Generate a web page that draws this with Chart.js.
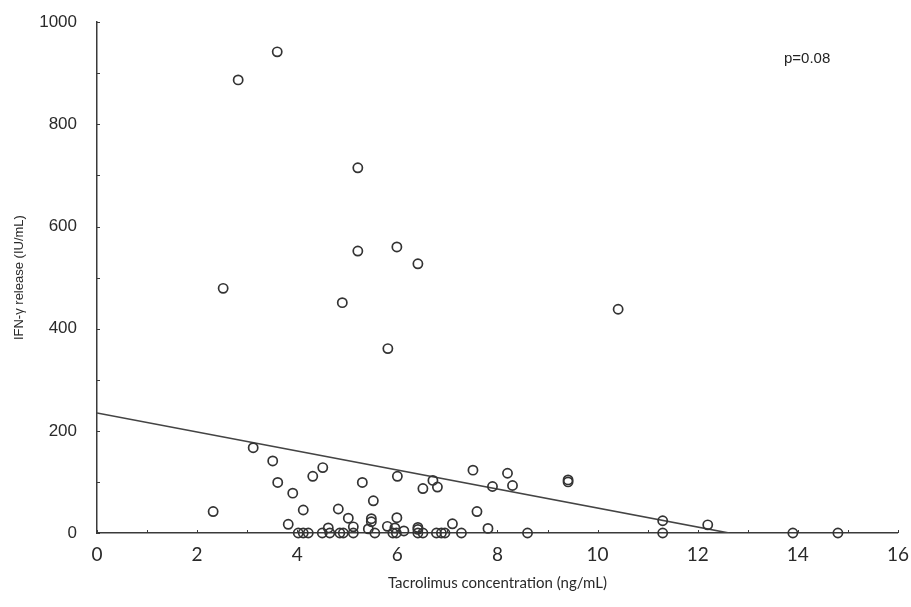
<!DOCTYPE html>
<html>
<head>
<meta charset="utf-8">
<script src="https://cdn.jsdelivr.net/npm/chart.js@4/dist/chart.umd.min.js"></script>
<style>
  body { margin: 0; background: #fff; }
  canvas { display: block; }
</style>
</head>
<body>
<canvas id="chart" width="911" height="607"></canvas>
<script>
// Tacrolimus concentration (ng/mL) vs IFN-γ release (IU/mL)
const concX = [
  3.6, 2.82, 5.21, 5.21, 5.99, 6.41, 2.52, 4.9, 10.41, 5.81,
  3.12, 3.51, 3.61, 3.91, 2.32, 4.31, 4.51, 4.12, 3.82, 4.82,
  5.3, 5.52, 6.0, 6.51, 6.71, 6.8, 7.51, 8.2, 7.9, 8.3,
  9.41, 9.41, 7.59, 7.1, 7.81, 11.3, 12.2,
  5.02, 5.12, 4.62, 5.48, 5.48, 5.42, 5.99, 5.8, 5.95, 6.13, 6.41, 6.41,
  4.02, 4.12, 4.22, 4.5, 4.65, 4.85, 4.92, 5.12, 5.55, 5.91, 5.98,
  6.41, 6.51, 6.78, 6.88, 6.95, 7.28, 8.6, 11.3, 13.9, 14.8
];
const ifnY = [
  942, 887, 715, 552, 560, 527, 479, 451, 438, 361,
  167, 141, 99, 78, 42, 111, 128, 45, 17, 47,
  99, 63, 111, 87, 103, 90, 123, 117, 91, 93,
  100, 104, 42, 18, 9, 24, 16,
  29, 12, 10, 28, 22, 8, 30, 13, 10, 4, 7, 11,
  0, 0, 0, 0, 0, 0, 0, 0, 0, 0, 0,
  0, 0, 0, 0, 0, 0, 0, 0, 0, 0
];

// regression line end points
const fitX = [0, 12.63];
const fitY = [235, 0];

const xTicks = [0, 2, 4, 6, 8, 10, 12, 14, 16];
const yTicks = [0, 200, 400, 600, 800, 1000];
const xMinor = [0, 1, 2, 3, 4, 5, 6, 7, 8, 9, 10, 11, 12, 13, 14, 15, 16];
const yMinor = [0, 100, 200, 300, 400, 500, 600, 700, 800, 900, 1000];

const pLabel = "p=0.08";

const ink = "#3a3a3a";
const arial = "'Liberation Sans', Arial, Helvetica, sans-serif";
const calib = "Lato, 'Open Sans', sans-serif";

// small tick marks drawn inside the plot + p-value text
const innerTicks = {
  id: "innerTicks",
  afterDraw(chart) {
    const { ctx, scales: { x, y }, chartArea } = chart;
    ctx.save();
    ctx.strokeStyle = ink;
    ctx.lineWidth = 1;
    ctx.beginPath();
    xMinor.forEach((v) => {
      const px = Math.round(x.getPixelForValue(v)) + 0.5;
      ctx.moveTo(px, chartArea.bottom);
      ctx.lineTo(px, chartArea.bottom - 3);
    });
    yMinor.forEach((v) => {
      const py = Math.round(y.getPixelForValue(v)) + 0.5;
      ctx.moveTo(chartArea.left, py);
      ctx.lineTo(chartArea.left + 3, py);
    });
    ctx.stroke();

    ctx.fillStyle = "#222";
    ctx.font = "15px " + arial;
    ctx.textAlign = "left";
    ctx.textBaseline = "middle";
    ctx.fillText(pLabel, 784, 59);
    ctx.restore();
  },
};

new Chart(document.getElementById("chart"), {
  type: "scatter",
  data: {
    datasets: [
      {
        label: "Patients",
        data: concX.map((v, i) => ({ x: v, y: ifnY[i] })),
        pointStyle: "circle",
        pointRadius: 4.6,
        pointHoverRadius: 4.6,
        borderWidth: 1.7,
        borderColor: "#333",
        backgroundColor: "rgba(255,255,255,0)",
        clip: false,
      },
      {
        type: "line",
        label: "Fit",
        data: fitX.map((v, i) => ({ x: v, y: fitY[i] })),
        borderColor: "#444",
        borderWidth: 1.7,
        pointRadius: 0,
        fill: false,
      },
    ],
  },
  options: {
    responsive: false,
    animation: false,
    layout: { padding: { left: 0, right: 12, top: 21, bottom: 0 } },
    plugins: {
      legend: { display: false },
      tooltip: { enabled: false },
    },
    scales: {
      x: {
        type: "linear",
        min: 0,
        max: 16,
        grid: { display: false },
        border: { display: true, color: ink, width: 1.5 },
        afterBuildTicks: (s) => { s.ticks = xTicks.map((v) => ({ value: v })); },
        afterFit: (s) => { s.height = 74; },
        ticks: {
          autoSkip: false,
          maxRotation: 0,
          padding: 2,
          color: "#2a2a2a",
          font: { family: calib, size: 19 },
          callback: (v) => String(v),
        },
        title: {
          display: true,
          text: "Tacrolimus concentration (ng/mL)",
          color: "#2a2a2a",
          font: { family: calib, size: 15 },
          padding: { top: 0, bottom: 15 },
        },
      },
      y: {
        type: "linear",
        min: 0,
        max: 1000,
        grid: { display: false },
        border: { display: true, color: ink, width: 1.5 },
        afterBuildTicks: (s) => { s.ticks = yTicks.map((v) => ({ value: v })); },
        afterFit: (s) => { s.width = 97; },
        ticks: {
          autoSkip: false,
          padding: 12,
          color: "#2a2a2a",
          font: { family: arial, size: 17 },
          callback: (v) => String(v),
        },
        title: {
          display: true,
          text: "IFN-γ release (IU/mL)",
          color: "#2a2a2a",
          font: { family: arial, size: 13 },
          padding: { top: 12, bottom: 0 },
        },
      },
    },
  },
  plugins: [innerTicks],
});
</script>
</body>
</html>
